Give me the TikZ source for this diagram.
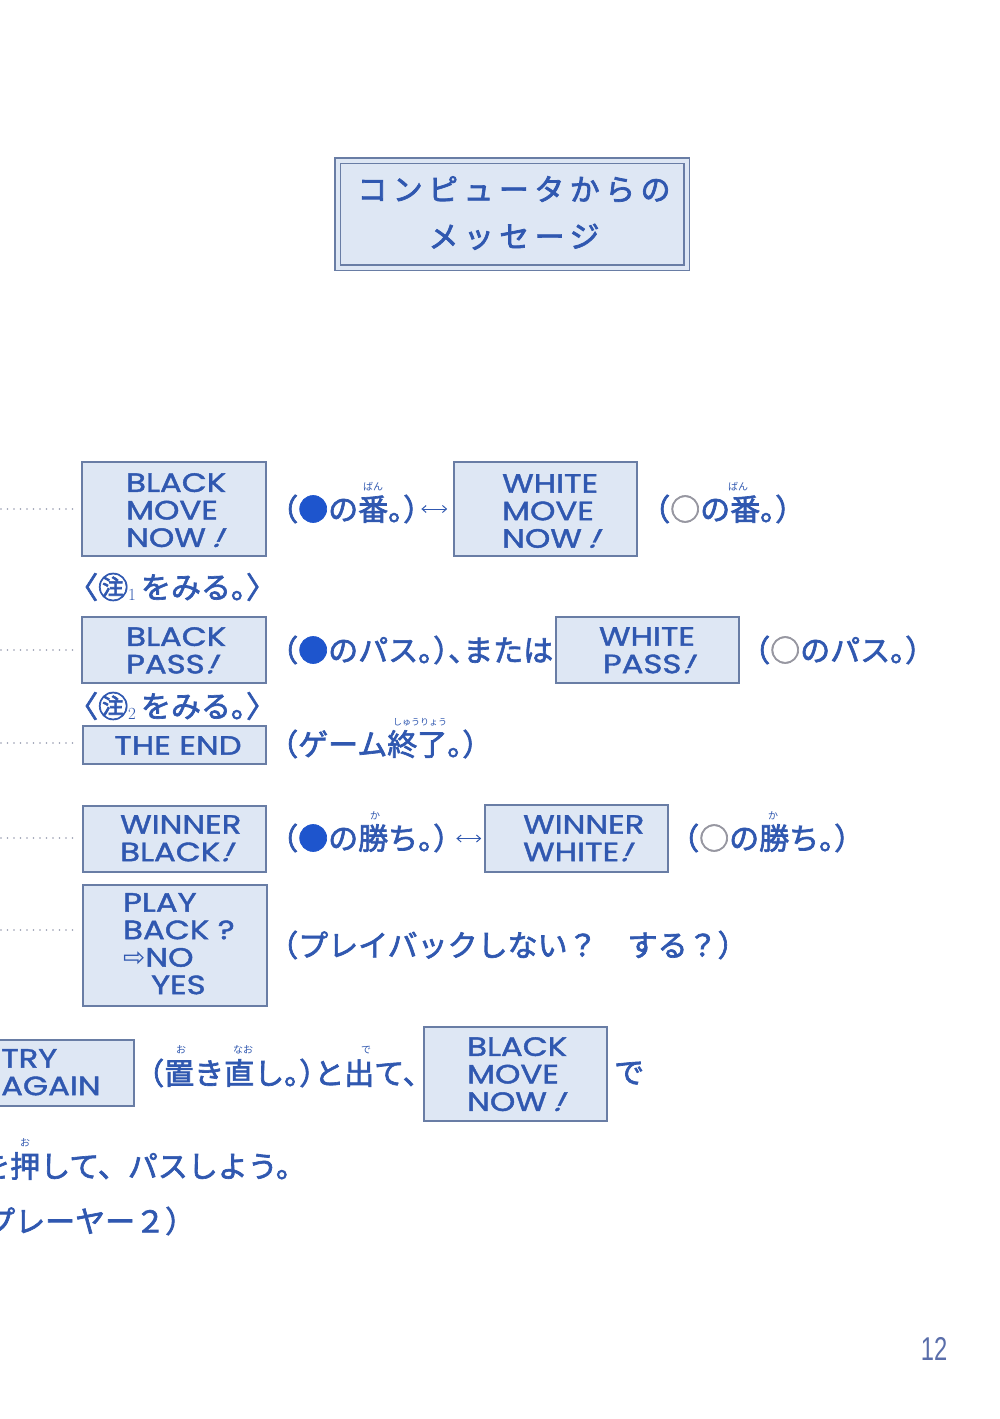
\documentclass[tikz,border=0pt]{standalone}
\usepackage{fontspec}
\usetikzlibrary{arrows.meta}
\newfontfamily\jp[RawFeature={+halt},FakeBold=2.2]{Noto Sans CJK JP}
\newfontfamily\jpfull[FakeBold=2.2]{Noto Sans CJK JP}
\newfontfamily\jpruby{Noto Sans CJK JP}
\newfontfamily\jptitle[LetterSpace=18,FakeBold=2.4]{Noto Sans CJK JP}
\newfontfamily\boxfont[FakeStretch=1.22,FakeBold=1.6]{Poppins}
\newfontfamily\boxslant[FakeStretch=1.22,FakeSlant=0.5,FakeBold=1.6]{Poppins}
\newfontfamily\symfont{DejaVu Sans}
\newfontfamily\numfont[FakeStretch=0.72]{Liberation Sans}
\definecolor{ink}{RGB}{48,88,176}
\definecolor{dotblue}{RGB}{30,85,205}
\definecolor{boxfill}{RGB}{222,231,244}
\definecolor{boxline}{RGB}{105,125,165}
\definecolor{lead}{RGB}{150,155,175}
\definecolor{wcirc}{RGB}{150,150,160}
\definecolor{pgnum}{RGB}{90,110,170}
\newcommand\excl{{\boxslant !}}
\newcommand\bdot{{\color{dotblue}●}}
\newcommand\wdot{{\color{wcirc}○}}
\newcommand\subn[1]{{\fontsize{17}{17}\selectfont\rmfamily\raisebox{-2pt}{#1}}}
\begin{document}
\begin{tikzpicture}[x=1pt,y=-1pt,
  msgbox/.style={draw=boxline, fill=boxfill, line width=1.6pt, inner sep=0pt, rectangle},
  titlebox/.style={draw=boxline, double=boxfill, double distance=4pt, line width=1.3pt, fill=boxfill, inner sep=0pt, minimum width=349pt, minimum height=107pt},
  titletxt/.style={inner sep=0pt, text=ink, align=center, font=\jptitle\fontsize{30}{47}\selectfont},
  boxtxt/.style={inner sep=0pt, text=ink, align=left, anchor=north west, font=\boxfont\fontsize{26.5}{27.5}\selectfont},
  boxtxtc/.style={boxtxt, align=center, anchor=north},
  jprow/.style={inner sep=0pt, text=ink, anchor=base west, font=\jp\fontsize{30}{30}\selectfont},
  jprowf/.style={jprow, font=\jpfull\fontsize{30}{30}\selectfont},
  ruby/.style={inner sep=0pt, text=ink, font=\jpruby\fontsize{10}{10}\selectfont},
  rubys/.style={ruby, font=\jpruby\fontsize{9}{9}\selectfont},
  leader/.style={draw=lead, line width=1.6pt, line cap=round, dash pattern=on 0pt off 6.5pt, shorten >=4pt},
  dblarrow/.style={draw=ink, line width=1pt, {Straight Barb[length=4pt,width=7pt]}-{Straight Barb[length=4pt,width=7pt]}},
  pagenum/.style={inner sep=0pt, text=pgnum, font=\numfont\fontsize{33}{33}\selectfont}
]
\useasboundingbox[fill=white] (0,0) rectangle (1000,1419);

% title
\node[titlebox] (title) at (512,214) {};
\node[titletxt] (ttext) at (514,213) {コンピュータからの\\メッセージ};

% row 1
\node[msgbox, minimum width=184pt, minimum height=94pt] (b1) at (174,509) {};
\node[boxtxt] (t1) at (126,473) {BLACK\\MOVE\\NOW\hspace{5pt}\excl};
\coordinate (l1) at (-12,509);
\draw[leader] (l1) -- (b1.west);
\node[jprow] (r1) at (283,520.4) {（\bdot の番。）};
\node[ruby] (u1) at (373,487) {ばん};
\node[msgbox, minimum width=183pt, minimum height=94pt] (b2) at (545.5,509) {};
\node[boxtxt] (t2) at (502,474) {WHITE\\MOVE\\NOW\hspace{5pt}\excl};
\draw[dblarrow, shorten <=3pt, shorten >=6pt] (r1.east |- b2.west) -- (b2.west);
\node[jprow] (r2) at (655,520.4) {（\wdot の番。）};
\node[ruby] (u2) at (738,487) {ばん};

% note 1
\node[jprow] (n1) at (83,598.4) {〈㊟\subn{1}\hspace{5pt}をみる。〉};

% row 2
\node[msgbox, minimum width=184pt, minimum height=66pt] (b3) at (174,650) {};
\node[boxtxt] (t3) at (126,627) {BLACK\\PASS\excl};
\coordinate (l3) at (-12,650);
\draw[leader] (l3) -- (b3.west);
\node[jprow] (r3) at (283,661.4) {（\bdot のパス。）、または};
\node[msgbox, minimum width=183pt, minimum height=66pt] (b4) at (647.5,650) {};
\node[boxtxtc] (t4) at (647,627) {WHITE\\PASS\excl};
\node[jprow] (r4) at (755,661.4) {（\wdot のパス。）};

% note 2
\node[jprow] (n2) at (83,717.4) {〈㊟\subn{2}\hspace{5pt}をみる。〉};

% row 3
\node[msgbox, minimum width=183pt, minimum height=38pt] (b5) at (174.5,745) {};
\node[boxtxtc] (t5) at (178,736) {THE END};
\coordinate (l5) at (-12,743);
\draw[leader] (l5) -- (l5 -| b5.west);
\node[jprow] (r5) at (283,755.4) {（ゲーム終了。）};
\node[rubys] (u5) at (420,722) {しゅうりょう};

% row 4
\node[msgbox, minimum width=183pt, minimum height=66pt] (b6) at (174.5,839) {};
\node[boxtxt] (t6) at (120,815) {WINNER\\BLACK\excl};
\coordinate (l6) at (-12,838);
\draw[leader] (l6) -- (l6 -| b6.west);
\node[jprow] (r6) at (283,849.4) {（\bdot の勝ち。）};
\node[ruby] (u6) at (375,816) {か};
\node[msgbox, minimum width=183pt, minimum height=67pt] (b7) at (576.5,838.5) {};
\node[boxtxt] (t7) at (523,815) {WINNER\\WHITE\excl};
\draw[dblarrow, shorten <=8pt, shorten >=3pt] (r6.east |- b7.west) -- (b7.west);
\node[jprow] (r7) at (684,849.4) {（\wdot の勝ち。）};
\node[ruby] (u7) at (773,816) {か};

% row 5
\node[msgbox, minimum width=184pt, minimum height=121pt] (b8) at (175,945.5) {};
\node[boxtxt] (t8) at (123,893) {PLAY\\BACK ?\\{\symfont ⇨}NO\\\hspace*{28pt}YES};
\coordinate (l8) at (-12,930);
\draw[leader] (l8) -- (l8 -| b8.west);
\node[jprow] (r8) at (283,956.4) {（プレイバックしない？　する？）};

% row 6
\node[msgbox, minimum width=183pt, minimum height=66pt] (b9) at (42.5,1073) {};
\node[boxtxt] (t9) at (1,1049) {TRY\\AGAIN};
\node[jprow] (r9) at (149,1084.4) {（置き直し。）と出て、};
\node[ruby] (u9a) at (181,1050) {お};
\node[ruby] (u9b) at (243,1050) {なお};
\node[ruby] (u9c) at (366,1050) {で};
\node[msgbox, minimum width=183pt, minimum height=94pt] (b10) at (515.5,1074) {};
\node[boxtxt] (t10) at (467,1037) {BLACK\\MOVE\\NOW\hspace{5pt}\excl};
\node[jprow] (r10) at (614,1083.4) {で};

% lower lines
\node[jprowf] (r11) at (-20,1177.4) {を押して、パスしよう。};
\node[ruby] (u11) at (25,1143) {お};
\node[jprowf] (r12) at (-15,1232.4) {プレーヤー２）};

\node[pagenum] (pg) at (934,1349) {12};
\end{tikzpicture}
\end{document}
